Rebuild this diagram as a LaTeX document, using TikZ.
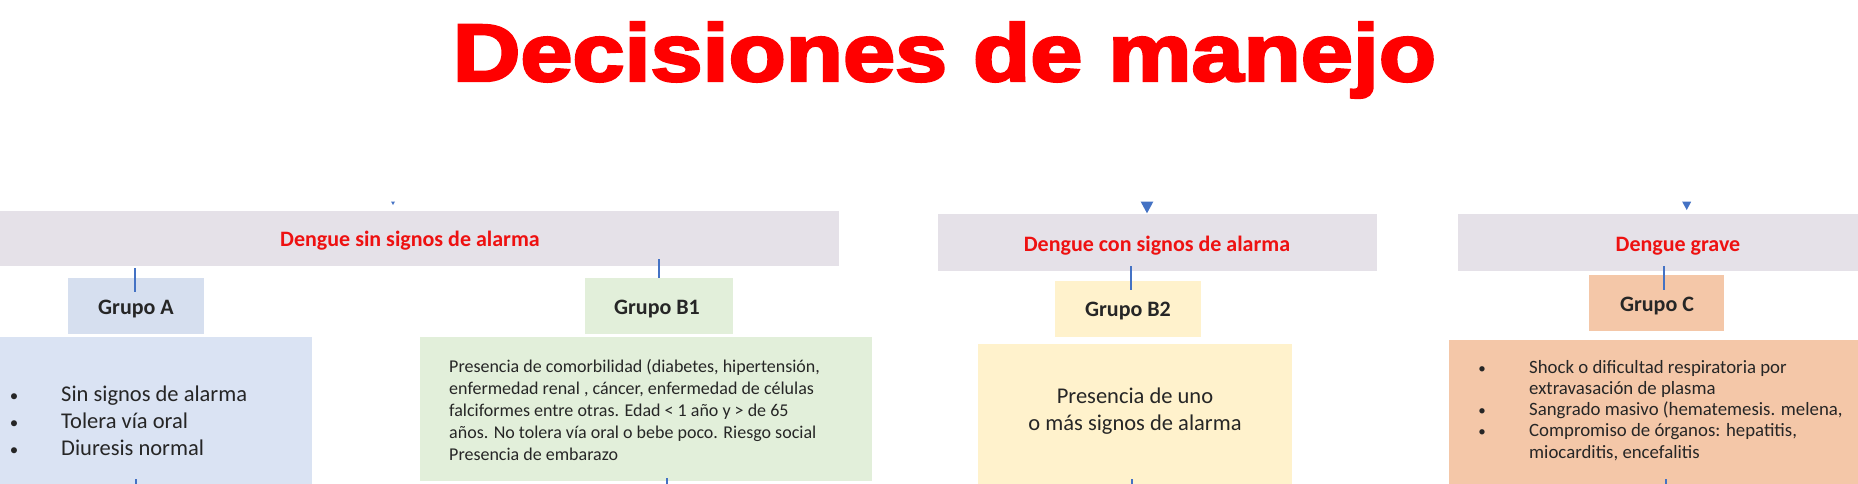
\documentclass[tikz,border=0pt]{standalone}
\usepackage{fontspec}
\setmainfont{Carlito}
\newfontfamily\titlefont{Liberation Sans}[BoldFeatures={FakeBold=3}]
\usetikzlibrary{calc}
\definecolor{hdrgray}{HTML}{E5E1E8}
\definecolor{hred}{HTML}{EE1111}
\definecolor{titlered}{HTML}{FF0000}
\definecolor{grpAblue}{HTML}{D6DFEF}
\definecolor{cAblue}{HTML}{DAE3F3}
\definecolor{bgreen}{HTML}{E2EFDA}
\definecolor{byellow}{HTML}{FFF2CC}
\definecolor{corange}{HTML}{F4C7A8}
\definecolor{lineblue}{HTML}{4472C4}
\definecolor{txtc}{HTML}{262626}
\begin{document}
\begin{tikzpicture}[x=1pt,y=-1pt,
  box/.style={inner sep=0pt,outer sep=0pt,anchor=north west,draw=none},
  hdrtxt/.style={anchor=base,inner sep=0pt,text=hred,font=\fontsize{22}{26}\selectfont\bfseries},
  grptxt/.style={anchor=base,inner sep=0pt,text=txtc,font=\fontsize{22}{26}\selectfont\bfseries},
  bodybig/.style={anchor=base west,inner sep=0pt,text=txtc,font=\fontsize{22.5}{27}\selectfont},
  bodybigc/.style={anchor=base,inner sep=0pt,text=txtc,font=\fontsize{22.5}{27}\selectfont},
  bullet/.style={anchor=base,inner sep=0pt,text=txtc,font=\fontsize{17}{20}\selectfont},
  bodysmall/.style={anchor=base west,inner sep=0pt,text=txtc,font=\fontsize{18}{22}\selectfont},
  bodyc/.style={anchor=base west,inner sep=0pt,text=txtc,font=\fontsize{18.8}{22}\selectfont},
  conn/.style={draw=lineblue,line width=1.5pt},
  tri/.style={fill=lineblue}]
\useasboundingbox (0,0) rectangle (1858,484);
\clip (0,0) rectangle (1858,484);

% title
\node[anchor=base,inner sep=0pt,text=titlered] (title) at (944.5,81)
  {\resizebox{983pt}{59pt}{\titlefont\bfseries Decisiones de manejo}};

% header boxes
\node[box,fill=hdrgray,minimum width=849pt,minimum height=55pt] (hsin) at (-10,211) {};
\node[box,fill=hdrgray,minimum width=439pt,minimum height=57pt] (hcon) at (938,214) {};
\node[box,fill=hdrgray,minimum width=412pt,minimum height=57pt] (hgrave) at (1458,214) {};
\node[hdrtxt] (thsin) at (410,246) {Dengue sin signos de alarma};
\node[hdrtxt] (thcon) at (1157,251) {Dengue con signos de alarma};
\node[hdrtxt] (thgrave) at (1678,251) {Dengue grave};

% group boxes
\node[box,fill=grpAblue,minimum width=136pt,minimum height=56pt] (gA) at (68,278) {};
\node[box,fill=bgreen,minimum width=148pt,minimum height=56pt] (gB1) at (585,278) {};
\node[box,fill=byellow,minimum width=146pt,minimum height=56pt] (gB2) at (1055,281) {};
\node[box,fill=corange,minimum width=135pt,minimum height=56pt] (gC) at (1589,275) {};
\node[grptxt] (tgA) at (136,314) {Grupo A};
\node[grptxt] (tgB1) at (657,314) {Grupo B1};
\node[grptxt] (tgB2) at (1128,316) {Grupo B2};
\node[grptxt] (tgC) at (1657,311) {Grupo C};

% content boxes
\node[box,fill=cAblue,minimum width=322pt,minimum height=160pt] (cA) at (-10,337) {};
\node[box,fill=bgreen,minimum width=452pt,minimum height=144pt] (cB1) at (420,337) {};
\node[box,fill=byellow,minimum width=314pt,minimum height=150pt] (cB2) at (978,344) {};
\node[box,fill=corange,minimum width=421pt,minimum height=160pt] (cC) at (1449,340) {};

% Grupo A content
\foreach \i/\yy/\t in {1/401/Sin signos de alarma,2/428/Tolera vía oral,3/455/Diuresis normal}{
  \node[bullet] (aB\i) at (14,\yy) {•};
  \node[bodybig] (aT\i) at (61,\yy) {\t};
}

% Grupo B1 content
\node[bodysmall] (b1l1) at (449,372.5) {Presencia de comorbilidad (diabetes, hipertensión,};
\node[bodysmall] (b1l2) at (449,394.5) {enfermedad renal , cáncer, enfermedad de células};
\node[bodysmall] (b1l3) at (449,416.5) {falciformes entre otras. Edad < 1 año y > de 65};
\node[bodysmall] (b1l4) at (449,438.5) {años. No tolera vía oral o bebe poco. Riesgo social};
\node[bodysmall] (b1l5) at (449,460.5) {Presencia de embarazo};

% Grupo B2 content
\node[bodybigc] (b2l1) at (1135,403) {Presencia de uno};
\node[bodybigc] (b2l2) at (1135,430) {o más signos de alarma};

% Grupo C content
\node[bullet,font=\fontsize{15}{18}\selectfont] (cb1) at (1482,373) {•};
\node[bullet,font=\fontsize{15}{18}\selectfont] (cb2) at (1482,415.6) {•};
\node[bullet,font=\fontsize{15}{18}\selectfont] (cb3) at (1482,436.9) {•};
\node[bodyc] (cl1) at (1529,373) {Shock o dificultad respiratoria por};
\node[bodyc] (cl2) at (1529,394.3) {extravasación de plasma};
\node[bodyc] (cl3) at (1529,415.6) {Sangrado masivo (hematemesis. melena,};
\node[bodyc] (cl4) at (1529,436.9) {Compromiso de órganos: hepatitis,};
\node[bodyc] (cl5) at (1529,458.2) {miocarditis, encefalitis};

% connectors header -> group
\draw[conn] ($(hsin.south -| gA.north)+(-1,2)$) -- ($(gA.north)+(-1,14)$);
\draw[conn] ($(hsin.south -| gB1.north)+(0,-7)$) -- (gB1.north);
\draw[conn] ($(hcon.south -| gB2.north)+(3,-5)$) -- ($(gB2.north)+(3,9)$);
\draw[conn] ($(hgrave.south)+(0,-5)$) -- ($(hgrave.south |- gC.north)+(0,15)$);

% stubs leaving the content boxes downward
\draw[conn] ($(cA.south -| gA.south)+(0,-18)$) -- ++(0,20);
\draw[conn] ($(cB1.south)+(21,-3)$) -- ++(0,10);
\draw[conn] ($(cB2.south -| gB2.south)+(4,-15)$) -- ++(0,20);
\draw[conn] ($(cC.south -| hgrave.south)+(2,-21)$) -- ++(0,30);

% arrowheads of incoming connectors
\fill[tri] (391,201.5) -- (395,201.5) -- (393,205) -- cycle;
\fill[tri] (1140.7,201.7) -- (1153.3,201.7) -- (1147,213.3) -- cycle;
\fill[tri] (1682.2,201.7) -- (1691.2,201.7) -- (1686.7,210) -- cycle;
\end{tikzpicture}
\end{document}
